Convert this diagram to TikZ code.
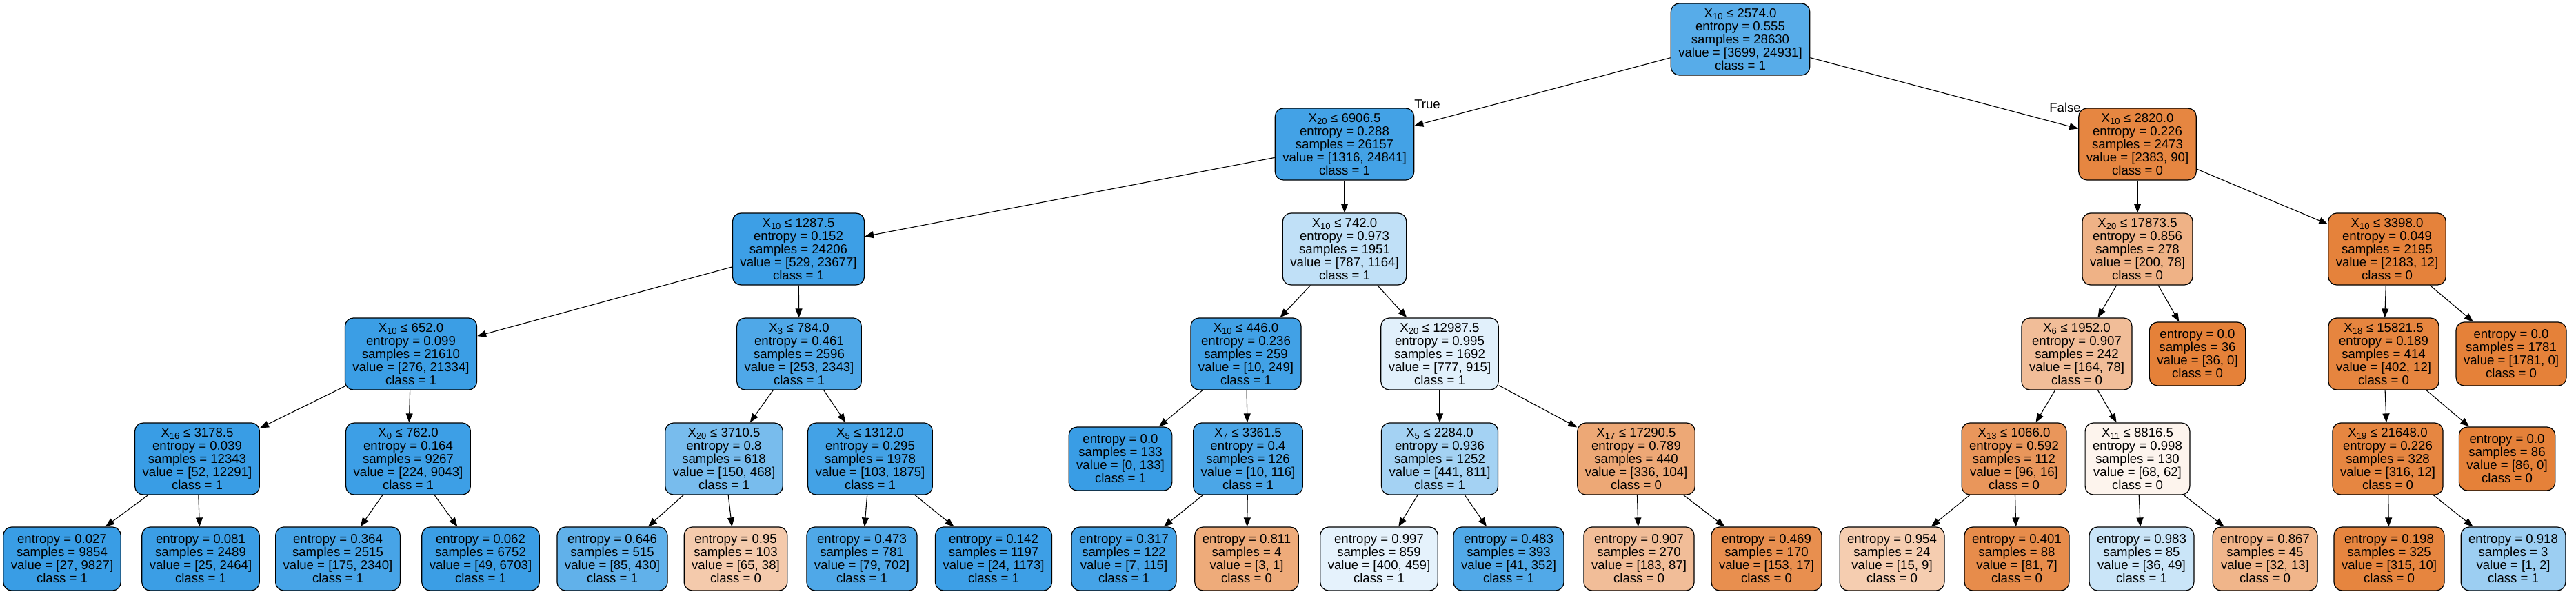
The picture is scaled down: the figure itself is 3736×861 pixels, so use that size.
\documentclass[tikz,border=0pt]{standalone}
\usepackage{fontspec}
\setmainfont{Liberation Sans}
\usetikzlibrary{arrows.meta}
\definecolor{cls0}{RGB}{229,129,57}
\definecolor{cls1}{RGB}{57,157,229}

\begin{document}
\begin{tikzpicture}[x=1pt,y=-1pt]
\tikzstyle{split}=[rectangle, rounded corners=12pt, draw, line width=1.2pt, align=center, inner xsep=11pt, inner ysep=0pt, minimum height=104pt, font=\fontsize{18.6}{19}\selectfont]
\tikzstyle{leaf}=[split, minimum height=92pt]
\tikzstyle{branch}=[-{Triangle[length=13pt,width=10pt]}, line width=1.1pt]
\useasboundingbox (0,0) rectangle (3736,861);

% depth 0 and 1
\node[split, fill=cls1!85] (0) at (2524,57) {X\textsubscript{10} ≤ 2574.0\\entropy = 0.555\\samples = 28630\\value = [3699, 24931]\\class = 1};
\node[split, fill=cls1!95] (1) at (1950,209) {X\textsubscript{20} ≤ 6906.5\\entropy = 0.288\\samples = 26157\\value = [1316, 24841]\\class = 1};
\node[split, fill=cls0!96] (30) at (3100,209) {X\textsubscript{10} ≤ 2820.0\\entropy = 0.226\\samples = 2473\\value = [2383, 90]\\class = 0};

% depth 2
\node[split, fill=cls1!98] (2) at (1158,361) {X\textsubscript{10} ≤ 1287.5\\entropy = 0.152\\samples = 24206\\value = [529, 23677]\\class = 1};
\node[split, fill=cls1!32] (17) at (1950,361) {X\textsubscript{10} ≤ 742.0\\entropy = 0.973\\samples = 1951\\value = [787, 1164]\\class = 1};
\node[split, fill=cls0!61] (31) at (3100,361) {X\textsubscript{20} ≤ 17873.5\\entropy = 0.856\\samples = 278\\value = [200, 78]\\class = 0};
\node[split, fill=cls0!99] (40) at (3462,361) {X\textsubscript{10} ≤ 3398.0\\entropy = 0.049\\samples = 2195\\value = [2183, 12]\\class = 0};

% depth 3
\node[split, fill=cls1!99] (3) at (596,513) {X\textsubscript{10} ≤ 652.0\\entropy = 0.099\\samples = 21610\\value = [276, 21334]\\class = 1};
\node[split, fill=cls1!89] (10) at (1159,513) {X\textsubscript{3} ≤ 784.0\\entropy = 0.461\\samples = 2596\\value = [253, 2343]\\class = 1};
\node[split, fill=cls1!96] (18) at (1807,513) {X\textsubscript{10} ≤ 446.0\\entropy = 0.236\\samples = 259\\value = [10, 249]\\class = 1};
\node[split, fill=cls1!15] (23) at (2088,513) {X\textsubscript{20} ≤ 12987.5\\entropy = 0.995\\samples = 1692\\value = [777, 915]\\class = 1};
\node[split, fill=cls0!52] (32) at (3012,513) {X\textsubscript{6} ≤ 1952.0\\entropy = 0.907\\samples = 242\\value = [164, 78]\\class = 0};
\node[leaf, fill=cls0] (39) at (3187,513) {entropy = 0.0\\samples = 36\\value = [36, 0]\\class = 0};
\node[split, fill=cls0!97] (41) at (3457,513) {X\textsubscript{18} ≤ 15821.5\\entropy = 0.189\\samples = 414\\value = [402, 12]\\class = 0};
\node[leaf, fill=cls0] (46) at (3642,513) {entropy = 0.0\\samples = 1781\\value = [1781, 0]\\class = 0};

% depth 4
\node[split, fill=cls1] (4) at (286,665) {X\textsubscript{16} ≤ 3178.5\\entropy = 0.039\\samples = 12343\\value = [52, 12291]\\class = 1};
\node[split, fill=cls1!98] (7) at (592,665) {X\textsubscript{0} ≤ 762.0\\entropy = 0.164\\samples = 9267\\value = [224, 9043]\\class = 1};
\node[split, fill=cls1!68] (11) at (1050,665) {X\textsubscript{20} ≤ 3710.5\\entropy = 0.8\\samples = 618\\value = [150, 468]\\class = 1};
\node[split, fill=cls1!95] (14) at (1262,665) {X\textsubscript{5} ≤ 1312.0\\entropy = 0.295\\samples = 1978\\value = [103, 1875]\\class = 1};
\node[leaf, fill=cls1] (19) at (1625,665) {entropy = 0.0\\samples = 133\\value = [0, 133]\\class = 1};
\node[split, fill=cls1!91] (20) at (1810,665) {X\textsubscript{7} ≤ 3361.5\\entropy = 0.4\\samples = 126\\value = [10, 116]\\class = 1};
\node[split, fill=cls1!46] (24) at (2088,665) {X\textsubscript{5} ≤ 2284.0\\entropy = 0.936\\samples = 1252\\value = [441, 811]\\class = 1};
\node[split, fill=cls0!69] (27) at (2373,665) {X\textsubscript{17} ≤ 17290.5\\entropy = 0.789\\samples = 440\\value = [336, 104]\\class = 0};
\node[split, fill=cls0!83] (33) at (2921,665) {X\textsubscript{13} ≤ 1066.0\\entropy = 0.592\\samples = 112\\value = [96, 16]\\class = 0};
\node[split, fill=cls0!9] (36) at (3100,665) {X\textsubscript{11} ≤ 8816.5\\entropy = 0.998\\samples = 130\\value = [68, 62]\\class = 0};
\node[split, fill=cls0!96] (42) at (3463,665) {X\textsubscript{19} ≤ 21648.0\\entropy = 0.226\\samples = 328\\value = [316, 12]\\class = 0};
\node[leaf, fill=cls0] (45) at (3636,665) {entropy = 0.0\\samples = 86\\value = [86, 0]\\class = 0};

% depth 5
\node[leaf, fill=cls1] (5) at (90,810) {entropy = 0.027\\samples = 9854\\value = [27, 9827]\\class = 1};
\node[leaf, fill=cls1!99] (6) at (291,810) {entropy = 0.081\\samples = 2489\\value = [25, 2464]\\class = 1};
\node[leaf, fill=cls1!93] (8) at (490,810) {entropy = 0.364\\samples = 2515\\value = [175, 2340]\\class = 1};
\node[leaf, fill=cls1!99] (9) at (697,810) {entropy = 0.062\\samples = 6752\\value = [49, 6703]\\class = 1};
\node[leaf, fill=cls1!80] (12) at (888,810) {entropy = 0.646\\samples = 515\\value = [85, 430]\\class = 1};
\node[leaf, fill=cls0!42] (13) at (1067,810) {entropy = 0.95\\samples = 103\\value = [65, 38]\\class = 0};
\node[leaf, fill=cls1!89] (15) at (1250,810) {entropy = 0.473\\samples = 781\\value = [79, 702]\\class = 1};
\node[leaf, fill=cls1!98] (16) at (1441,810) {entropy = 0.142\\samples = 1197\\value = [24, 1173]\\class = 1};
\node[leaf, fill=cls1!94] (21) at (1630,810) {entropy = 0.317\\samples = 122\\value = [7, 115]\\class = 1};
\node[leaf, fill=cls0!67] (22) at (1808,810) {entropy = 0.811\\samples = 4\\value = [3, 1]\\class = 0};
\node[leaf, fill=cls1!13] (25) at (2000,810) {entropy = 0.997\\samples = 859\\value = [400, 459]\\class = 1};
\node[leaf, fill=cls1!88] (26) at (2188,810) {entropy = 0.483\\samples = 393\\value = [41, 352]\\class = 1};
\node[leaf, fill=cls0!52] (28) at (2377,810) {entropy = 0.907\\samples = 270\\value = [183, 87]\\class = 0};
\node[leaf, fill=cls0!89] (29) at (2562,810) {entropy = 0.469\\samples = 170\\value = [153, 17]\\class = 0};
\node[leaf, fill=cls0!40] (34) at (2744,810) {entropy = 0.954\\samples = 24\\value = [15, 9]\\class = 0};
\node[leaf, fill=cls0!91] (35) at (2925,810) {entropy = 0.401\\samples = 88\\value = [81, 7]\\class = 0};
\node[leaf, fill=cls1!27] (37) at (3106,810) {entropy = 0.983\\samples = 85\\value = [36, 49]\\class = 1};
\node[leaf, fill=cls0!59] (38) at (3285,810) {entropy = 0.867\\samples = 45\\value = [32, 13]\\class = 0};
\node[leaf, fill=cls0!97] (43) at (3465,810) {entropy = 0.198\\samples = 325\\value = [315, 10]\\class = 0};
\node[leaf, fill=cls1!50] (44) at (3645,810) {entropy = 0.918\\samples = 3\\value = [1, 2]\\class = 1};

% edge labels
\node[font=\fontsize{18.6}{19}\selectfont, inner sep=0pt] (true) at (2070,151) {True};
\node[font=\fontsize{18.6}{19}\selectfont, inner sep=0pt] (false) at (2995,156) {False};

\draw[branch] (0)--(1); \draw[branch] (0)--(30);
\draw[branch] (1)--(2); \draw[branch] (1)--(17);
\draw[branch] (2)--(3); \draw[branch] (2)--(10);
\draw[branch] (3)--(4); \draw[branch] (3)--(7);
\draw[branch] (4)--(5); \draw[branch] (4)--(6);
\draw[branch] (7)--(8); \draw[branch] (7)--(9);
\draw[branch] (10)--(11); \draw[branch] (10)--(14);
\draw[branch] (11)--(12); \draw[branch] (11)--(13);
\draw[branch] (14)--(15); \draw[branch] (14)--(16);
\draw[branch] (17)--(18); \draw[branch] (17)--(23);
\draw[branch] (18)--(19); \draw[branch] (18)--(20);
\draw[branch] (20)--(21); \draw[branch] (20)--(22);
\draw[branch] (23)--(24); \draw[branch] (23)--(27);
\draw[branch] (24)--(25); \draw[branch] (24)--(26);
\draw[branch] (27)--(28); \draw[branch] (27)--(29);
\draw[branch] (30)--(31); \draw[branch] (30)--(40);
\draw[branch] (31)--(32); \draw[branch] (31)--(39);
\draw[branch] (32)--(33); \draw[branch] (32)--(36);
\draw[branch] (33)--(34); \draw[branch] (33)--(35);
\draw[branch] (36)--(37); \draw[branch] (36)--(38);
\draw[branch] (40)--(41); \draw[branch] (40)--(46);
\draw[branch] (41)--(42); \draw[branch] (41)--(45);
\draw[branch] (42)--(43); \draw[branch] (42)--(44);

  \end{tikzpicture}
\end{document}
